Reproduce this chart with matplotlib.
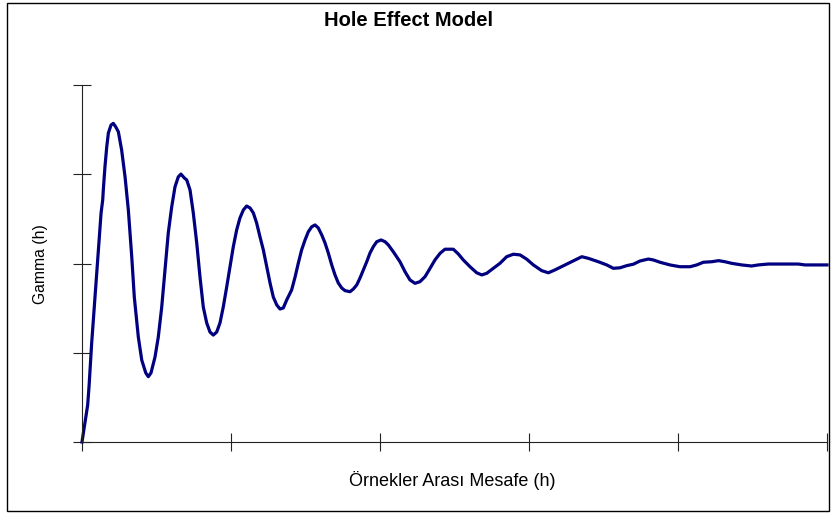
import matplotlib
matplotlib.use("Agg")
import matplotlib.pyplot as plt
from matplotlib.patches import Rectangle

plt.rcParams['font.family'] = ['Liberation Sans', 'DejaVu Sans']

title = "Hole Effect Model"
xlabel = "Örnekler Arası Mesafe (h)"
ylabel = "Gamma (h)"

distance = [0.00, 0.38, 0.47, 0.54, 0.65, 0.87, 1.09, 1.28, 1.39, 1.43, 1.54, 1.66, 1.77, 1.95,
            2.10, 2.26, 2.44, 2.66, 2.89, 3.11, 3.34, 3.51, 3.78, 4.01, 4.28, 4.45, 4.63, 4.90,
            5.12, 5.35, 5.57, 5.79, 6.02, 6.24, 6.46, 6.64, 6.87, 7.03, 7.25, 7.47, 7.70, 7.92,
            8.14, 8.37, 8.59, 8.81, 9.04, 9.26, 9.48, 9.71, 9.93, 10.15, 10.38, 10.60, 10.83,
            11.05, 11.28, 11.50, 11.72, 11.95, 12.17, 12.40, 12.62, 12.84, 13.07, 13.29, 13.51,
            13.74, 14.07, 14.30, 14.52, 14.74, 14.97, 15.19, 15.42, 15.64, 15.86, 16.09, 16.31,
            16.53, 16.76, 16.98, 17.20, 17.43, 17.65, 17.99, 18.21, 18.44, 18.66, 18.88, 19.11,
            19.33, 19.55, 19.78, 20.07, 20.34, 20.56, 20.89, 21.34, 21.68, 22.01, 22.35, 22.68,
            23.02, 23.36, 23.69, 24.03, 24.36, 24.92, 25.26, 25.59, 26.04, 26.49, 26.83, 27.16,
            27.60, 28.05, 28.50, 28.95, 29.40, 29.85, 30.29, 30.85, 31.30, 31.74, 32.42, 33.09,
            33.54, 33.98, 34.65, 35.22, 35.66, 36.11, 36.56, 37.00, 37.45, 38.01, 38.34, 38.79,
            39.46, 40.13, 40.81, 41.26, 41.70, 42.27, 42.72, 43.15, 43.60, 44.27, 44.94, 45.39,
            46.06, 48.07, 48.52, 50.00]
gamma = [0.000, 0.207, 0.308, 0.403, 0.555, 0.812, 1.076, 1.283, 1.356, 1.412, 1.541, 1.653,
         1.731, 1.776, 1.785, 1.766, 1.738, 1.636, 1.485, 1.300, 1.036, 0.812, 0.588, 0.459,
         0.387, 0.366, 0.387, 0.476, 0.588, 0.756, 0.964, 1.171, 1.317, 1.429, 1.485, 1.501,
         1.479, 1.468, 1.412, 1.283, 1.115, 0.924, 0.756, 0.667, 0.616, 0.599, 0.616, 0.667,
         0.756, 0.868, 0.980, 1.092, 1.188, 1.255, 1.300, 1.322, 1.311, 1.283, 1.227, 1.148,
         1.076, 0.980, 0.891, 0.812, 0.768, 0.745, 0.751, 0.796, 0.852, 0.924, 1.003, 1.076,
         1.132, 1.178, 1.206, 1.216, 1.199, 1.160, 1.115, 1.059, 0.992, 0.936, 0.891, 0.863,
         0.848, 0.842, 0.857, 0.880, 0.919, 0.964, 1.010, 1.059, 1.094, 1.122, 1.132, 1.122,
         1.104, 1.066, 1.010, 0.954, 0.908, 0.889, 0.898, 0.926, 0.973, 1.020, 1.057, 1.080,
         1.080, 1.053, 1.020, 0.982, 0.948, 0.936, 0.945, 0.973, 1.001, 1.038, 1.052, 1.048,
         1.024, 0.992, 0.960, 0.948, 0.964, 0.992, 1.020, 1.038, 1.029, 1.010, 0.992, 0.973,
         0.976, 0.988, 0.996, 1.014, 1.025, 1.020, 1.007, 0.992, 0.982, 0.982, 0.992, 1.007,
         1.010, 1.016, 1.010, 1.001, 0.992, 0.986, 0.992, 0.997, 0.997, 0.992, 0.992]

xticks = [0, 10, 20, 30, 40, 50]
yticks = [0, 0.5, 1.0, 1.5, 2.0]

W, H = 833, 514
fig = plt.figure(figsize=(W / 100, H / 100), dpi=100)
ax = fig.add_axes([82 / W, (H - 442) / H, (827 - 82) / W, (442 - 85) / H])

ax.plot(distance, gamma, color='#000080', lw=2.3, solid_joinstyle='round', clip_on=False)

ax.set_xlim(0, 50)
ax.set_ylim(0, 2)
ax.set_xticks(xticks)
ax.set_yticks(yticks)
ax.set_xticklabels([])
ax.set_yticklabels([])
ax.tick_params(direction='inout', length=13.5, width=0.8, color='#222222')
for s in ['top', 'right']:
    ax.spines[s].set_visible(False)
for s in ['left', 'bottom']:
    ax.spines[s].set_linewidth(0.8)
    ax.spines[s].set_color('#222222')

fig.text(409 / W, 1 - 20 / H, title, ha='center', va='center', fontsize=14.5, fontweight='bold')
fig.text(452 / W, 1 - 480 / H, xlabel, ha='center', va='center', fontsize=13)
fig.text(40 / W, 1 - 264 / H, ylabel, ha='center', va='center', fontsize=11.3, rotation=90)

fig.patches.append(Rectangle((7 / W, 3 / H), 822 / W, 508 / H, transform=fig.transFigure,
                             fill=False, edgecolor='black', lw=1))

fig.savefig("out.png", dpi=100)
